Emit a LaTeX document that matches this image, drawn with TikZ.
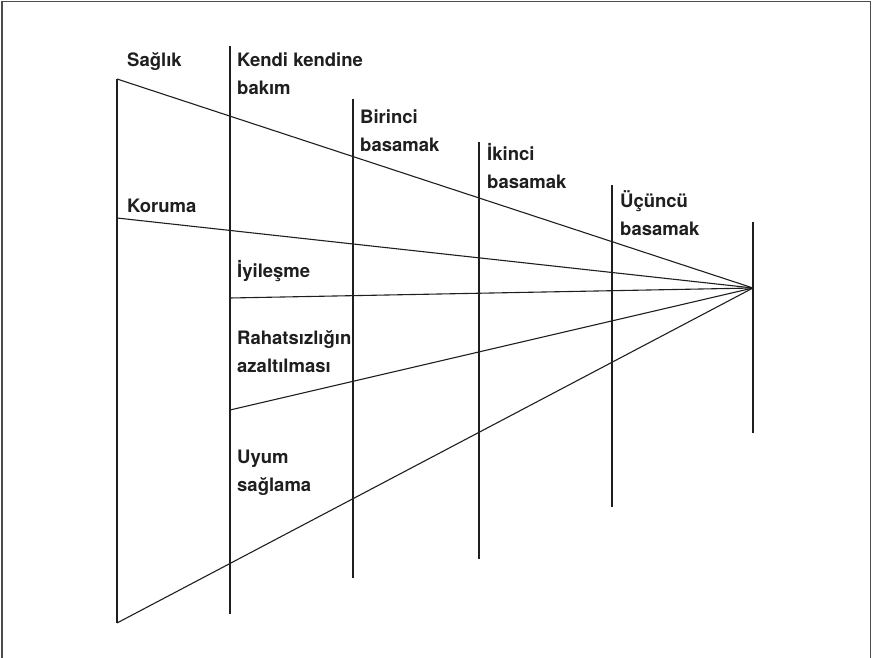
\documentclass[tikz,border=0pt]{standalone}
\usepackage{fontspec}
\setmainfont{TeX Gyre Heros}
\begin{document}
\begin{tikzpicture}[x=1pt,y=-1pt,
  ln/.style={line width=1.1pt,draw=black!88},
  frame/.style={line width=1.5pt,draw=black!70},
  lbl/.style={anchor=base west,inner sep=0pt,align=left,text=black!88,
    font=\fontsize{18.5}{28}\selectfont\bfseries}]
\useasboundingbox (0,0) rectangle (875,658);
% frame (open at bottom)
\coordinate (fbl) at (2,660);
\coordinate (ftl) at (2,1.5);
\coordinate (ftr) at (870.5,1.5);
\coordinate (fbr) at (870.5,660);
\draw[frame] (fbl) -- (ftl) -- (ftr) -- (fbr);
% vertical lines
\coordinate (a0) at (117,79);  \coordinate (b0) at (117,623);
\coordinate (a1) at (230,46);  \coordinate (b1) at (230,614);
\coordinate (a2) at (353,99);  \coordinate (b2) at (353,578);
\coordinate (a3) at (479,142); \coordinate (b3) at (479,559);
\coordinate (a4) at (612,185); \coordinate (b4) at (612,507);
\coordinate (a5) at (753,222); \coordinate (b5) at (753,433);
\coordinate (apex) at (753,288);
\coordinate (kor) at (117,218);
\coordinate (iyi) at (230,298);
\coordinate (rah) at (230,410);
\foreach \i in {0,...,5} {\draw[ln] (a\i) -- (b\i);}
% converging lines
\draw[ln] (a0) -- (apex);
\draw[ln] (kor) -- (apex);
\draw[ln] (iyi) -- (apex);
\draw[ln] (rah) -- (apex);
\draw[ln] (b0) -- (apex);
% labels (base anchor of a two-line node is the last line's baseline)
\node[lbl] (saglik) at (127,67) {Sağlık};
\node[lbl] (kendi) at (237,95) {Kendi kendine\\bakım};
\node[lbl] (birinci) at (360,151) {Birinci\\basamak};
\node[lbl] (ikinci) at (487,188) {İkinci\\basamak};
\node[lbl] (ucuncu) at (620,235) {Üçüncü\\basamak};
\node[lbl] (koruma) at (127,212) {Koruma};
\node[lbl] (iyilesme) at (237,277) {İyileşme};
\node[lbl] (rahats) at (237,372) {Rahatsızlığın\\azaltılması};
\node[lbl] (uyum) at (237,491) {Uyum\\sağlama};
\end{tikzpicture}
\end{document}
